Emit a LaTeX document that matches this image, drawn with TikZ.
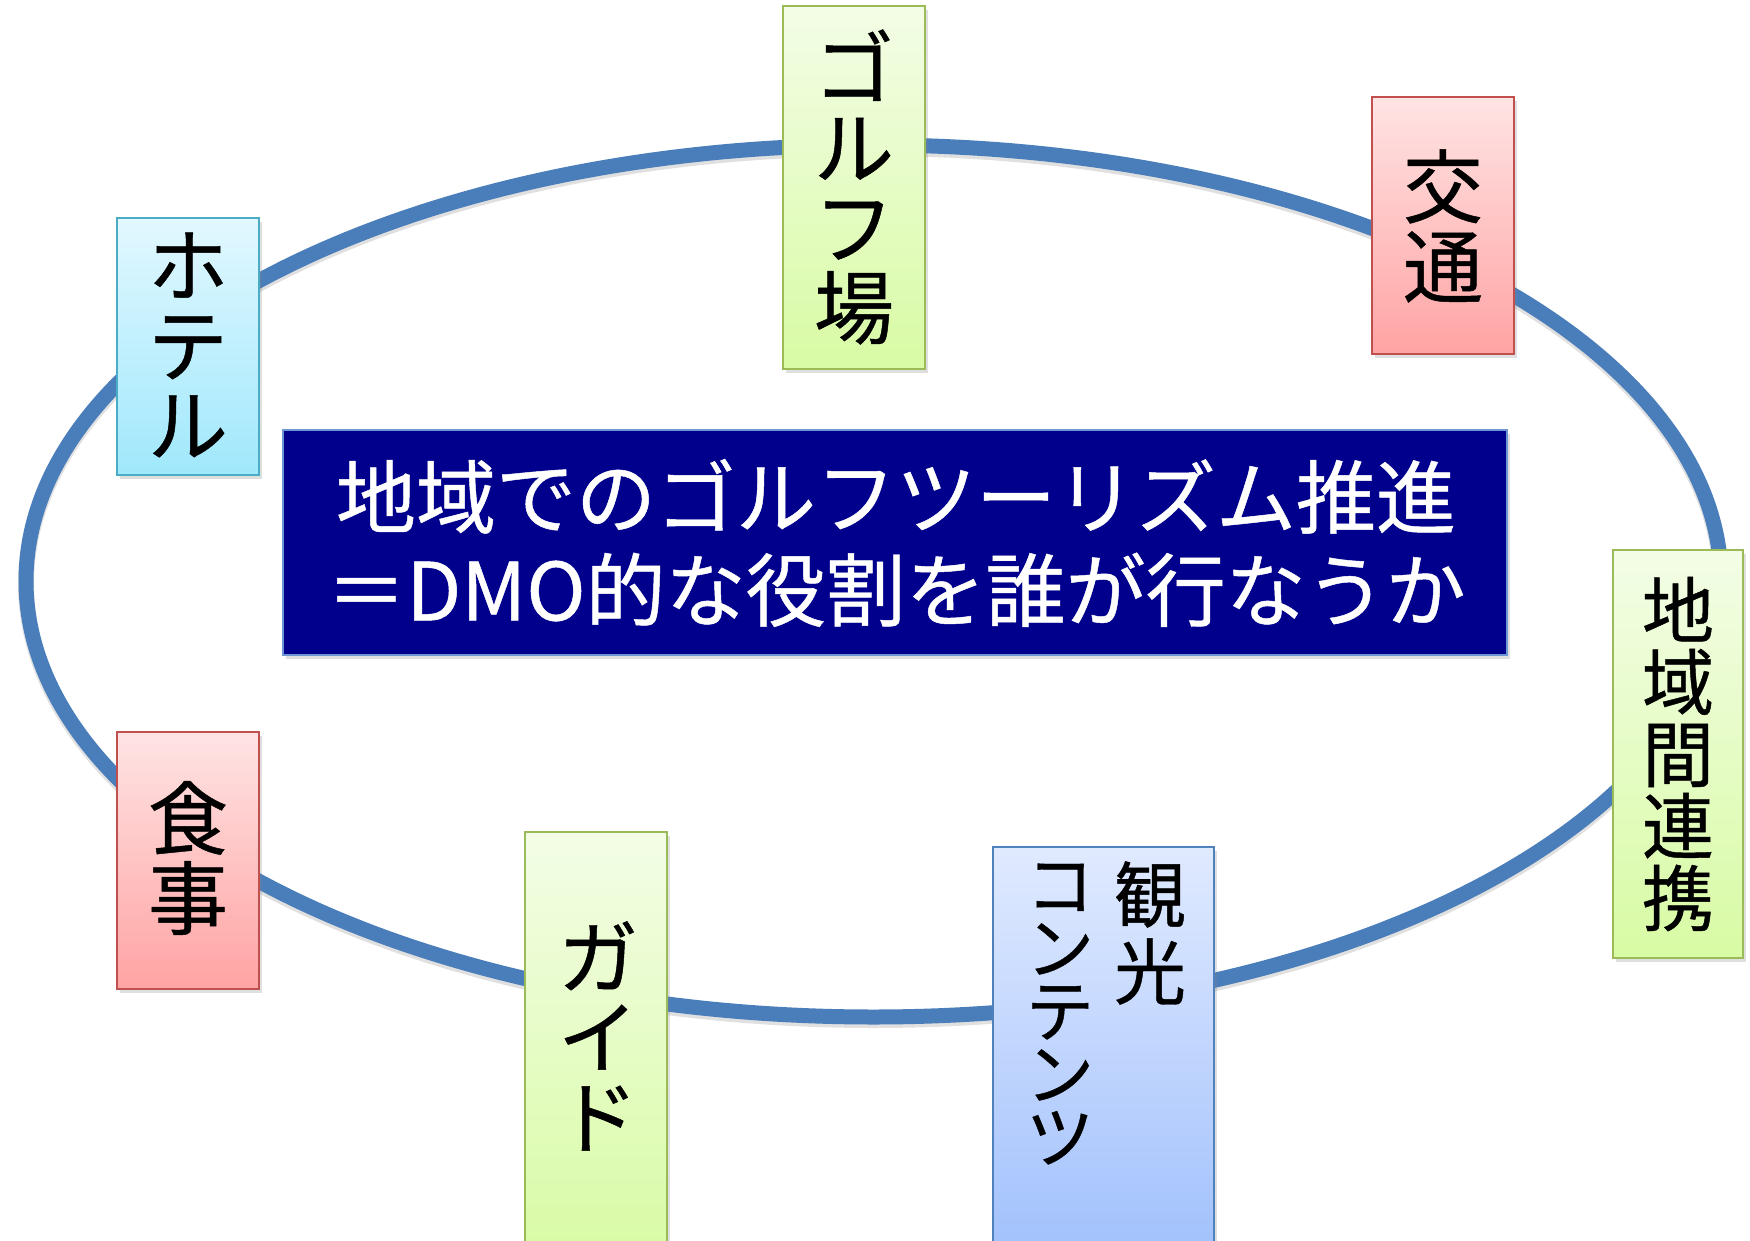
\documentclass[tikz,border=0pt]{standalone}
\usepackage{fontspec}
\setmainfont{Noto Sans CJK JP}[FakeBold=0.6]
\usetikzlibrary{shadows}
\definecolor{ringblue}{RGB}{74,126,187}
\definecolor{navyfill}{RGB}{0,0,140}
\definecolor{navyline}{RGB}{110,150,210}
\definecolor{greentop}{RGB}{243,253,230}
\definecolor{greenbot}{RGB}{216,251,164}
\definecolor{greenline}{RGB}{155,187,89}
\definecolor{redtop}{RGB}{255,228,228}
\definecolor{redbot}{RGB}{255,163,163}
\definecolor{redline}{RGB}{192,80,77}
\definecolor{cyantop}{RGB}{226,248,255}
\definecolor{cyanbot}{RGB}{160,232,252}
\definecolor{cyanline}{RGB}{75,172,198}
\definecolor{bluetop}{RGB}{224,234,255}
\definecolor{bluebot}{RGB}{160,192,252}
\definecolor{blueline}{RGB}{79,129,189}
\begin{document}
\begin{tikzpicture}[x=0.5pt,y=-0.5pt,
  ring/.style={draw=ringblue,line width=7.5pt},
  ringshade/.style={draw=black,opacity=0.12,line width=8pt},
  card/.style={draw,line width=1pt,inner sep=0pt,
    drop shadow={shadow xshift=1.5pt,shadow yshift=-2pt,opacity=0.25}},
  greencard/.style={card,draw=greenline,top color=greentop,bottom color=greenbot},
  redcard/.style={card,draw=redline,top color=redtop,bottom color=redbot},
  cyancard/.style={card,draw=cyanline,top color=cyantop,bottom color=cyanbot},
  bluecard/.style={card,draw=blueline,top color=bluetop,bottom color=bluebot},
  titlecard/.style={card,draw=navyline,fill=navyfill},
  vtext/.style={align=center,inner sep=0pt,text=black,font=\fontsize{40pt}{40pt}\selectfont},
  vsmall/.style={vtext,font=\fontsize{36pt}{36pt}\selectfont},
  titletext/.style={align=center,inner sep=0pt,text=white,font=\fontsize{40pt}{46.5pt}\selectfont}
]
\useasboundingbox (0,0) rectangle (1750,1241);
\clip (0,0) rectangle (1750,1241);
\fill[white] (0,0) rectangle (1750,1241);
% ring
\draw[ringshade] (873.5,584) ellipse [x radius=423.75pt, y radius=218pt];
\draw[ring] (873.5,581) ellipse [x radius=423.75pt, y radius=218pt];
% central box
\node[titlecard,minimum width=612pt,minimum height=112.5pt] (title) at (895,542.5) {};
\node[titletext] (titlet) at (896,543) {地域でのゴルフツーリズム推進\\＝DMO的な役割を誰が行なうか};
% boxes
\node[greencard,minimum width=71pt,minimum height=181.5pt] (golf) at (854,187.5) {};
\node[vtext] (golft) at (854,187) {ゴ\\ル\\フ\\場};
\node[redcard,minimum width=71pt,minimum height=128.5pt] (kotsu) at (1443,225.5) {};
\node[vtext] (kotsut) at (1443,226) {交\\通};
\node[cyancard,minimum width=71pt,minimum height=128.5pt] (hotel) at (188,346.5) {};
\node[vtext] (hotelt) at (188,345) {ホ\\テ\\ル};
\node[greencard,minimum width=65pt,minimum height=204pt] (chiiki) at (1678,754) {};
\node[vsmall] (chiikit) at (1678,754) {地\\域\\間\\連\\携};
\node[redcard,minimum width=71pt,minimum height=128.5pt] (meal) at (188,860.5) {};
\node[vtext] (mealt) at (188,858) {食\\事};
\node[greencard,minimum width=71pt,minimum height=214pt] (guide) at (596,1046) {};
\node[vtext] (guidet) at (598,1036) {ガ\\イ\\ド};
\node[bluecard,minimum width=110.5pt,minimum height=206.5pt] (kanko) at (1103.5,1053.5) {};
\node[vsmall,font=\fontsize{36pt}{38.5pt}\selectfont] (kankot1) at (1150,933) {観\\光};
\node[vsmall,font=\fontsize{34pt}{31.5pt}\selectfont] (kankot2) at (1060,1014) {コ\\ン\\テ\\ン\\ツ};
\end{tikzpicture}
\end{document}
